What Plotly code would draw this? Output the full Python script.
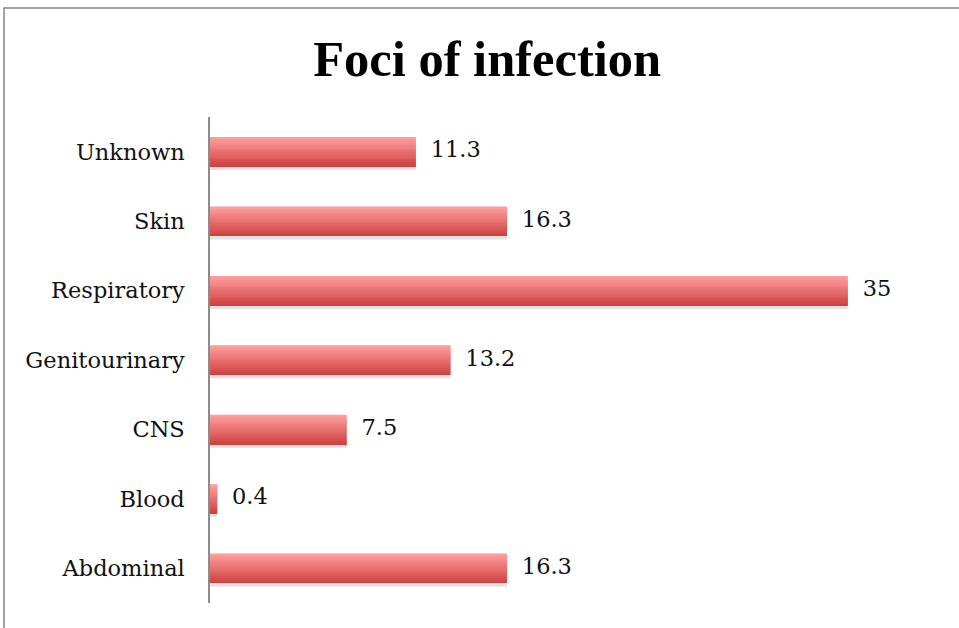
import plotly.graph_objects as go

categories = ["Abdominal", "Blood", "CNS", "Genitourinary", "Respiratory", "Skin", "Unknown"]
values = [16.3, 0.4, 7.5, 13.2, 35, 16.3, 11.3]
value_labels = ["16.3", "0.4", "7.5", "13.2", "35", "16.3", "11.3"]
title_text = "Foci of infection"

W, H = 959, 628
ML, MR, MT, MB = 210, 20, 117, 25
FONT = "DejaVu Serif"
TITLE_FONT = "Liberation Serif"

fig = go.Figure()

bar_w = 0.42
# shadow
fig.add_trace(go.Bar(
    x=values, y=categories, orientation="h",
    width=bar_w, offset=-bar_w / 2 - 0.055,
    marker=dict(color="rgba(0,0,0,0.11)", line=dict(width=0)),
    hoverinfo="skip", showlegend=False,
))

# gradient bar built from slices
N = 16
top = (255, 156, 156)
bot = (206, 66, 66)
sw = bar_w / N
for i in range(N):
    t = i / (N - 1)  # 0 = bottom, 1 = top
    c = tuple(round(bot[k] + (top[k] - bot[k]) * t) for k in range(3))
    fig.add_trace(go.Bar(
        x=values, y=categories, orientation="h",
        width=sw * 1.05, offset=-bar_w / 2 + i * sw,
        marker=dict(color="rgb(%d,%d,%d)" % c, line=dict(width=0)),
        hoverinfo="skip", showlegend=False,
    ))

fig.add_trace(go.Scatter(
    x=values, y=categories, mode="markers+text",
    text=value_labels, textposition="middle right",
    marker=dict(size=22, color="rgba(0,0,0,0)"),
    textfont=dict(family=FONT, size=22.5, color="#111"),
    cliponaxis=False, hoverinfo="skip", showlegend=False,
))

pw = W - ML - MR
ph = H - MT - MB
fig.add_shape(
    type="rect", xref="paper", yref="paper",
    x0=(4 - ML) / pw, x1=(W + 10 - ML) / pw,
    y0=-(H + 10 - MT - ph) / ph, y1=(H - MB - 8) / ph,
    line=dict(color="#858585", width=1.5), fillcolor="rgba(0,0,0,0)",
    layer="below",
)

fig.update_layout(
    width=W, height=H,
    margin=dict(l=ML, r=MR, t=MT, b=MB),
    paper_bgcolor="white", plot_bgcolor="white",
    barmode="overlay",
    title=dict(text="<b>%s</b>" % title_text, x=0.508, xanchor="center",
               y=1 - 58 / H, yanchor="middle",
               font=dict(family=TITLE_FONT, size=50.5, color="black")),
    xaxis=dict(visible=False, range=[0, 40]),
    yaxis=dict(
        categoryorder="array", categoryarray=categories,
        range=[-0.5, 6.5],
        showline=True, linecolor="#8c8c8c", linewidth=1.5,
        showgrid=False, zeroline=False, ticks="",
        ticklabelstandoff=19,
        tickfont=dict(family=FONT, size=22.5, color="#111"),
    ),
)

fig.write_html("out.html")
